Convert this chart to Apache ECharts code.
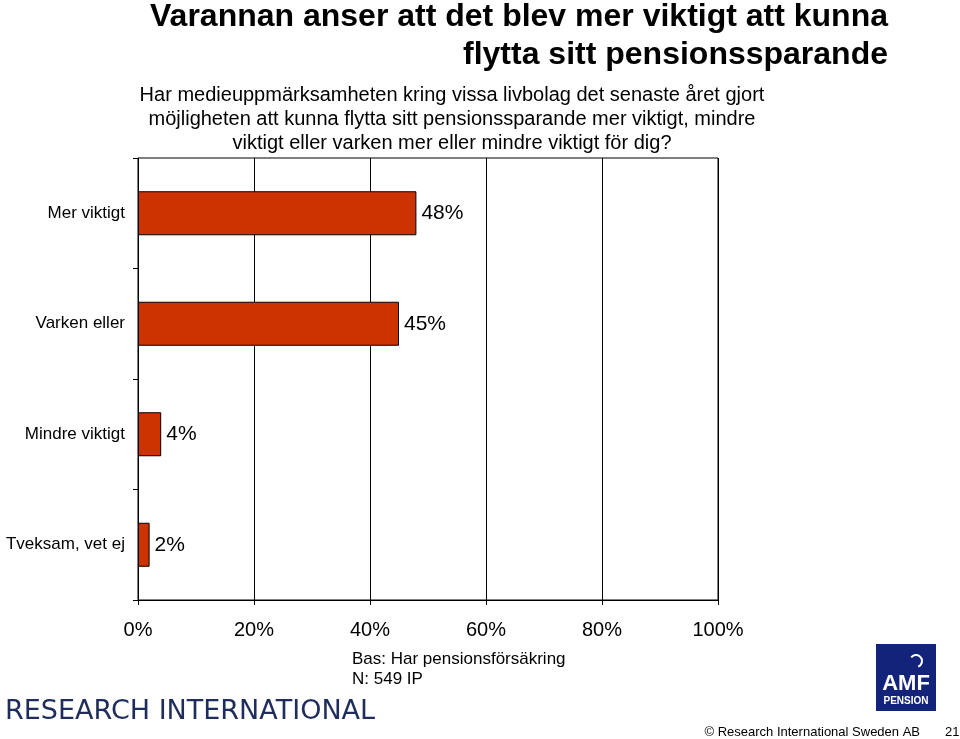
<!DOCTYPE html>
<html>
<head>
<meta charset="utf-8">
<script src="https://cdn.jsdelivr.net/npm/echarts@6/dist/echarts.min.js"></script>
<style>
    html, body { margin: 0; padding: 0; background: #fff; }
    #chart { width: 960px; height: 739px; }
</style>
</head>
<body>
<div id="chart"></div>
<script>
var categories = ["Mer viktigt", "Varken eller", "Mindre viktigt", "Tveksam, vet ej"];
var values = [48, 45, 4, 2];
var xTicks = [0, 20, 40, 60, 80, 100];

var titleLines = ["Varannan anser att det blev mer viktigt att kunna", "flytta sitt pensionssparande"];
var questionLines = [
    "Har medieuppmärksamheten kring vissa livbolag det senaste året gjort",
    "möjligheten att kunna flytta sitt pensionssparande mer viktigt, mindre",
    "viktigt eller varken mer eller mindre viktigt för dig?"
];

var font = "Liberation Sans, Arial, sans-serif";
var myChart = echarts.init(document.getElementById("chart"));

var graphics = [];
titleLines.forEach((t, i) => {
    graphics.push({
        type: "text", x: 888, y: 17 + i * 38,
        style: { text: t, font: "bold 32px " + font, fill: "#000", textAlign: "right", textVerticalAlign: "middle" }
    });
});
questionLines.forEach((t, i) => {
    graphics.push({
        type: "text", x: 452, y: 95 + i * 24,
        style: { text: t, font: "20px " + font, fill: "#000", textAlign: "center", textVerticalAlign: "middle" }
    });
});
graphics.push(
    { type: "text", x: 352, y: 659, style: { text: "Bas: Har pensionsförsäkring", font: "17px " + font, fill: "#000", textVerticalAlign: "middle" } },
    { type: "text", x: 352, y: 679, style: { text: "N: 549 IP", font: "17px " + font, fill: "#000", textVerticalAlign: "middle" } },
    { type: "text", x: 5, y: 712, style: { text: "RESEARCH INTERNATIONAL", font: "27px DejaVu Sans, sans-serif", fill: "#1f2d5c", textVerticalAlign: "middle" } },
    { type: "rect", shape: { x: 876, y: 644, width: 60, height: 67 }, style: { fill: "#14237a" } },
    { type: "text", x: 906, y: 684, style: { text: "AMF", font: "bold 22px " + font, fill: "#fff", textAlign: "center", textVerticalAlign: "middle" } },
    { type: "text", x: 906, y: 701, style: { text: "PENSION", font: "bold 10px " + font, fill: "#fff", textAlign: "center", textVerticalAlign: "middle" } },
    { type: "arc", shape: { cx: 916, cy: 661, r: 6, startAngle: -2.5, endAngle: 1.2 }, style: { stroke: "#fff", lineWidth: 2, fill: null } },
    { type: "text", x: 920, y: 732, style: { text: "© Research International Sweden AB", font: "13px " + font, fill: "#000", textAlign: "right", textVerticalAlign: "middle" } },
    { type: "text", x: 945, y: 732, style: { text: "21", font: "13px " + font, fill: "#000", textVerticalAlign: "middle" } }
);

var option = {
    animation: false,
    backgroundColor: "#FFFFFF",
    grid: {
        left: 138,
        right: 242,
        top: 158,
        bottom: 139,
        show: true,
        borderColor: "#000",
        borderWidth: 1,
        containLabel: false
    },
    xAxis: {
        type: "value",
        min: xTicks[0],
        max: xTicks[xTicks.length - 1],
        interval: 20,
        axisLine: { show: true, lineStyle: { color: "#000" } },
        axisTick: { show: true, length: 5, lineStyle: { color: "#000" } },
        axisLabel: { formatter: "{value}%", color: "#000", fontSize: 20, fontFamily: font, margin: 20 },
        splitLine: { show: true, lineStyle: { color: "#000" } }
    },
    yAxis: {
        type: "category",
        inverse: true,
        data: categories,
        axisLine: { show: true, lineStyle: { color: "#000" } },
        axisTick: { show: true, length: 5, lineStyle: { color: "#000" } },
        axisLabel: { color: "#000", fontSize: 17, fontFamily: font, margin: 13 }
    },
    series: [{
        type: "bar",
        data: values,
        barWidth: 44,
        itemStyle: { color: "#cc3300", borderColor: "#000", borderWidth: 1 },
        label: {
            show: true,
            position: "right",
            distance: 5,
            formatter: "{c}%",
            color: "#000",
            fontSize: 21,
            fontFamily: font
        }
    }],
    graphic: graphics
};
myChart.setOption(option);
</script>
</body>
</html>
